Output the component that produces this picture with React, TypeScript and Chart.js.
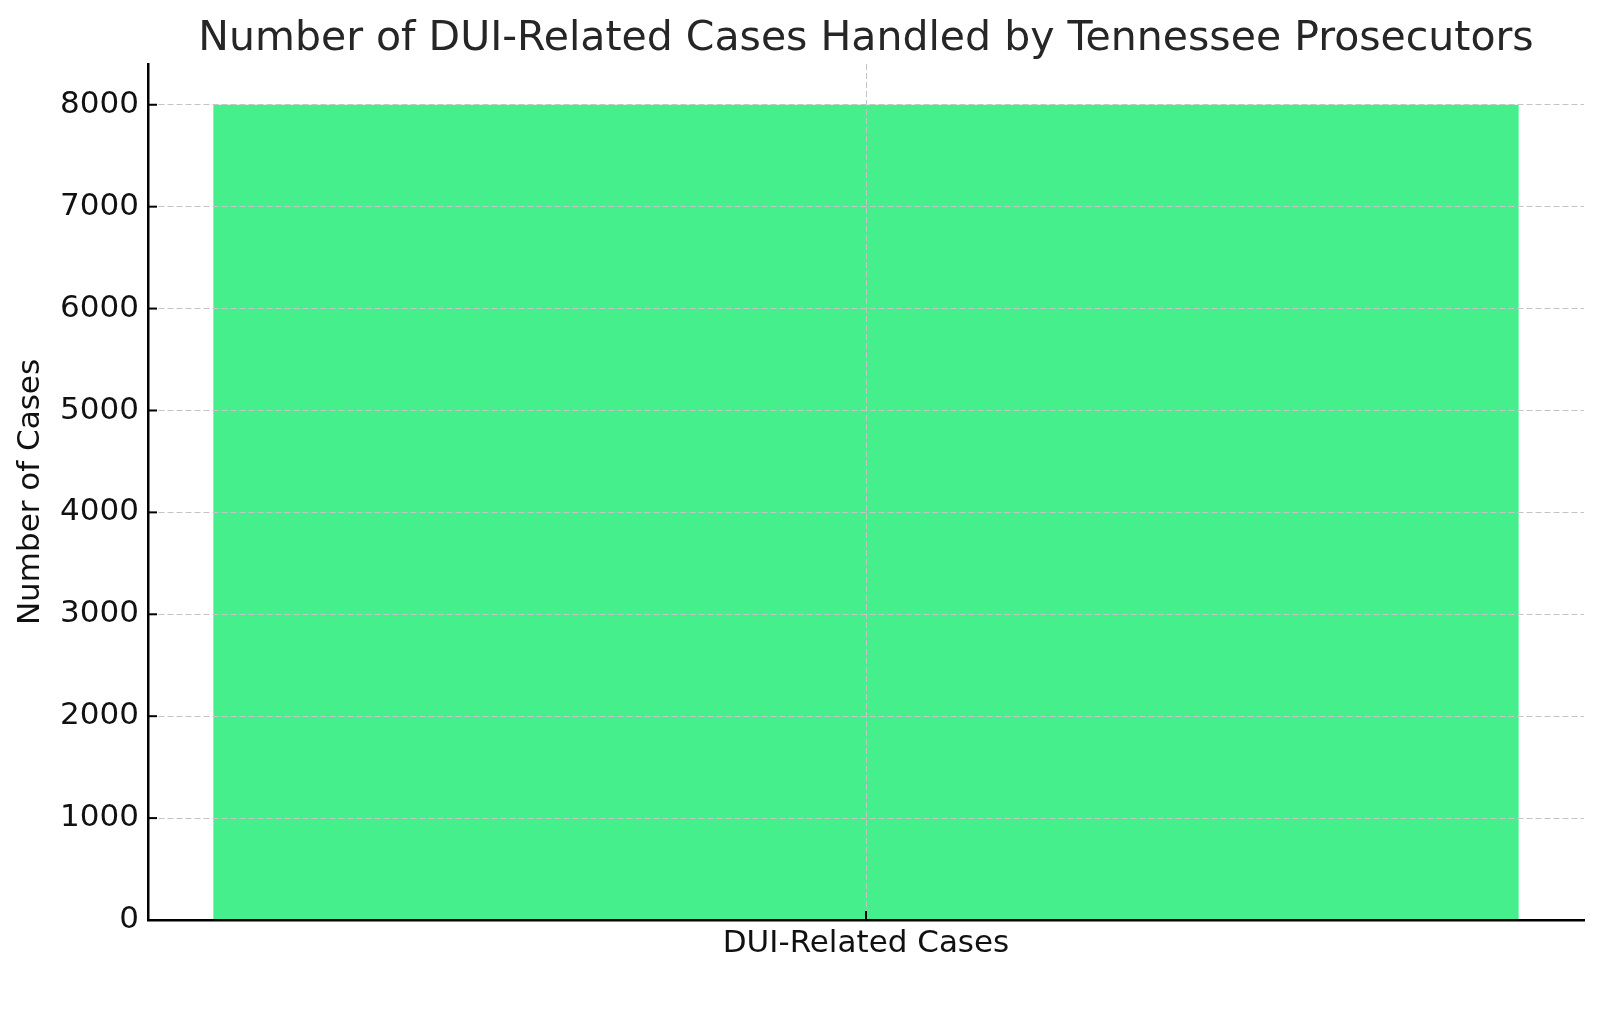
import { useEffect, useRef } from "react";
import Chart from "chart.js/auto";

const categories = ["DUI-Related Cases"];
const caseCounts = [8000];
const yTickValues = [0, 1000, 2000, 3000, 4000, 5000, 6000, 7000, 8000];
const yMax = 8400;

const chartTitle = "Number of DUI-Related Cases Handled by Tennessee Prosecutors";
const yAxisTitle = "Number of Cases";

const FONT = "'DejaVu Sans', sans-serif";
const GRID = "#c4c4c4";

// title centred over the plot area, like matplotlib does
const titlePlugin = {
  id: "axesTitle",
  afterDraw(chart: any) {
    const { ctx, chartArea } = chart;
    ctx.save();
    ctx.font = `41px ${FONT}`;
    ctx.fillStyle = "#262626";
    ctx.textAlign = "center";
    ctx.textBaseline = "alphabetic";
    ctx.fillText(chartTitle, (chartArea.left + chartArea.right) / 2, 50);
    ctx.restore();
  },
};

// short tick marks pointing into the plot
const innerTicks = {
  id: "innerTicks",
  afterDraw(chart: any) {
    const { ctx, chartArea, scales } = chart;
    ctx.save();
    ctx.strokeStyle = "#000";
    ctx.lineWidth = 2;
    scales.y.ticks.forEach((_t: any, i: number) => {
      const y = scales.y.getPixelForTick(i);
      ctx.beginPath();
      ctx.moveTo(chartArea.left, y);
      ctx.lineTo(chartArea.left + 9, y);
      ctx.stroke();
    });
    scales.x.ticks.forEach((_t: any, i: number) => {
      const x = scales.x.getPixelForTick(i);
      ctx.beginPath();
      ctx.moveTo(x, chartArea.bottom);
      ctx.lineTo(x, chartArea.bottom - 9);
      ctx.stroke();
    });
    ctx.restore();
  },
};

export default function App() {
  const canvasRef = useRef<HTMLCanvasElement>(null);

  useEffect(() => {
    document.body.style.margin = "0";
    if (!canvasRef.current) return;

    const chart = new Chart(canvasRef.current, {
      type: "bar",
      data: {
        labels: categories,
        datasets: [
          {
            label: "Cases",
            data: caseCounts,
            backgroundColor: "#45ef8c",
            borderWidth: 0,
            categoryPercentage: 1,
            barPercentage: 0.909,
          },
        ],
      },
      options: {
        responsive: true,
        maintainAspectRatio: false,
        animation: false,
        layout: { padding: { top: 64, right: 16, left: 0, bottom: 0 } },
        plugins: {
          legend: { display: false },
          title: { display: false },
          tooltip: { enabled: false },
        },
        scales: {
          x: {
            grid: {
              offset: false,
              drawTicks: false,
              color: GRID,
              lineWidth: 1,
              z: 1,
            } as any,
            border: { display: true, color: "#000", width: 2.5, dash: [6, 3], z: 2 } as any,
            ticks: {
              color: "#111",
              font: { family: FONT, size: 31 },
              padding: 5,
            },
            afterFit(scale: any) {
              scale.height = 99;
            },
          },
          y: {
            min: 0,
            max: yMax,
            afterBuildTicks(scale: any) {
              scale.ticks = yTickValues.map((v) => ({ value: v }));
            },
            grid: {
              drawTicks: false,
              color: (c: any) => (c.tick && c.tick.value === 0 ? "rgba(0,0,0,0)" : GRID),
              lineWidth: 1,
              z: 1,
            } as any,
            border: { display: true, color: "#000", width: 2.5, dash: [6, 3], z: 2 } as any,
            ticks: {
              color: "#111",
              font: { family: FONT, size: 31 },
              padding: 9,
              callback: (v: any) => String(v),
            },
            title: {
              display: true,
              text: yAxisTitle,
              color: "#111",
              font: { family: FONT, size: 31 },
              padding: { top: 12, bottom: 0 },
            },
            afterFit(scale: any) {
              scale.width = 148;
            },
          },
        },
      },
      plugins: [titlePlugin, innerTicks],
    });

    return () => chart.destroy();
  }, []);

  return (
    <div style={{ width: 1600, height: 1019, position: "relative", background: "#fff" }}>
      <canvas ref={canvasRef}></canvas>
    </div>
  );
}
